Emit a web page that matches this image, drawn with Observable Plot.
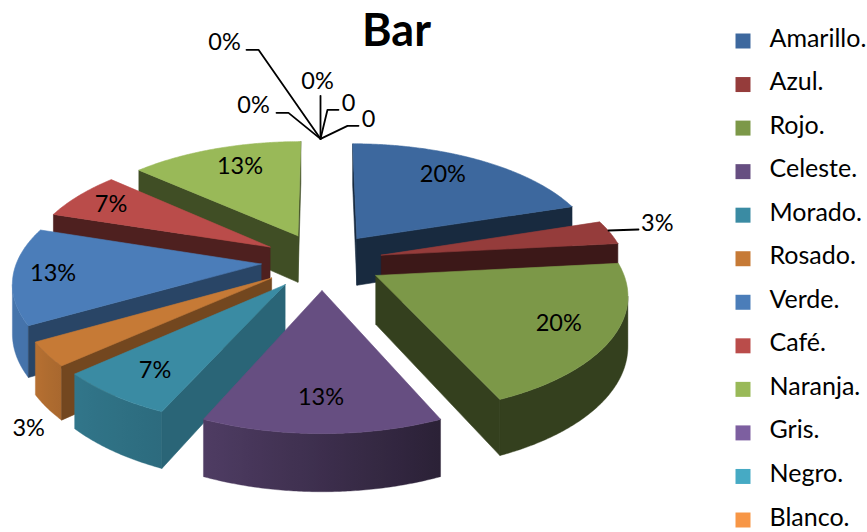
<!DOCTYPE html>
<html><head><meta charset="utf-8">
<script src="https://cdn.jsdelivr.net/npm/d3@7"></script>
<script src="https://cdn.jsdelivr.net/npm/@observablehq/plot@0.6"></script>
<style>
html,body{margin:0;padding:0;background:#fff;overflow:hidden}
#chart{position:relative;width:867px;height:532px;overflow:hidden}
#chart svg{position:absolute;top:0;background:transparent}
</style></head><body><div id="chart"></div>
<script>
// DATA
const categories = ["Amarillo.","Azul.","Rojo.","Celeste.","Morado.","Rosado.","Verde.","Café.","Naranja.","Gris.","Negro.","Blanco."];
const counts = [6,1,6,4,2,1,4,2,4,0,0,0,0,0];
const pctLabels = ["20%","3%","20%","13%","7%","3%","13%","7%","13%","0%","0%","0%","0","0"];
const colors = ["#3D689E","#953C3B","#7C9848","#664E81","#3A8BA3","#C67A36","#4B7DB9","#BA4C4A","#99B958","#7D5FA0","#46AAC4","#F79646"];

// LAYOUT / STYLE
const cam = {cx:321.5, cy:260.5, W:244, f:113.9, p:0.14, H:48, e:0.25};
const radialShade = [.40,.40,.42,.6,.73,.58,.55,.42,.42];
const outerShade = d3.scaleLinear([156,204,228,240,300],[.42,.77,.85,.92,.95]).clamp(true);
const labelOffset = [[86,-64],[276,-32],[183,48],[-1,107],[-130,86],[-243,150],[-208,9],[-159,-43],[-58,-69]];
const zeroLeaders = [
  {label:[-96,-96], pts:[[-74,-89],[-62,-89]]},
  {label:[-67,-33], pts:[[-44,-26],[-32,-26]]},
  {label:[-3,-57],  pts:[[0,-43]]},
  {label:[28,-35],  pts:[[18,-29],[7,-29]]},
  {label:[48,-19],  pts:[[38,-13],[27,-13]]}
];
const originShift = [-1.5,-1];
const azulLeader = [[608,230],[638,229]];

const rad = d => d*Math.PI/180;
const total = d3.sum(counts);
let acc = 0;
const slices = counts.map((v,i)=>{const a0=acc/total*360; acc+=v; const a1=acc/total*360; return {i,v,a0,a1,m:(a0+a1)/2};});

function project(s,a,r,z){
  const X = cam.e*Math.sin(rad(s.m)) + r*Math.sin(rad(a));
  const Y = cam.e*Math.cos(rad(s.m)) + r*Math.cos(rad(a));
  const k = 1/(1+cam.p*Y);
  return {x:cam.cx+cam.W*X*k, y:cam.cy-cam.f*Y*k+cam.H*z*k};
}
function shade(c,f){const q=d3.rgb(c);return d3.rgb(q.r*f,q.g*f,q.b*f).formatHex();}
function facing(q){const u={x:q[1].x-q[0].x,y:q[1].y-q[0].y},w={x:q[3].x-q[0].x,y:q[3].y-q[0].y};return u.x*w.y-u.y*w.x<0;}
function quad(s,a,b,ra,rb){return [project(s,a,ra,0),project(s,b,rb,0),project(s,b,rb,1),project(s,a,ra,1)];}
const poly = (pts,c,w=.6)=>Plot.line([...pts,pts[0]],{x:"x",y:"y",fill:c,stroke:c,strokeWidth:w,curve:"linear"});

const marks = [];
const gradients = [];
const drawn = slices.filter(s=>s.v>0).sort((p,q)=>Math.cos(rad(q.m))-Math.cos(rad(p.m)));
for(const s of drawn){
  const col = colors[s.i];
  const n=Math.max(8,Math.round((s.a1-s.a0)*2));
  const ang=d3.range(n+1).map(k=>s.a0+(s.a1-s.a0)*k/n);
  const top=[project(s,s.a0,0,0),...ang.map(a=>project(s,a,1,0))];
  const vis=[];
  for(let k=0;k<n;k++){ if(facing(quad(s,ang[k],ang[k+1],1,1))) {if(!vis.length)vis.push(ang[k]);vis.push(ang[k+1]);} }
  const q0=quad(s,s.a0,s.a0,0,1), q1=quad(s,s.a1,s.a1,1,0);
  if(vis.length){
    const id="wall"+s.i;
    const tp=vis.map(a=>project(s,a,1,0)), bt=vis.map(a=>project(s,a,1,1)).reverse();
    const xa=tp[0].x, xb=tp[tp.length-1].x;
    gradients.push({id,xa,xb,stops:vis.filter((a,i)=>i%4==0||i==vis.length-1).map(a=>({o:(project(s,a,1,0).x-xa)/(xb-xa),c:shade(col,outerShade(a))}))});
    marks.push(poly([...tp,...bt],`url(#${id})`,.4));
  }
  if(facing(q0)) marks.push(poly(q0,shade(col,radialShade[s.i])));
  if(facing(q1)) marks.push(poly(q1,shade(col,radialShade[s.i])));
  marks.push(poly(top,col));
}
const defsMark = () => {
  const d=d3.create("svg:defs");
  for(const g of gradients){
    const l=d.append("linearGradient").attr("id",g.id).attr("gradientUnits","userSpaceOnUse")
      .attr("x1",g.xa).attr("x2",g.xb).attr("y1",0).attr("y2",0);
    for(const t of g.stops) l.append("stop").attr("offset",t.o).attr("stop-color",t.c);
  }
  return d.node();
};
marks.unshift(defsMark);

const font="Lato, Carlito, 'Open Sans', sans-serif";
const labelData = slices.slice(0,9).map((s,i)=>{const p=project(s,0,0,0);return {x:p.x+labelOffset[i][0],y:p.y+labelOffset[i][1],t:pctLabels[i]};});
const base = project(slices[13],360,1,0);
const origin = {x:base.x+originShift[0],y:base.y+originShift[1]};
zeroLeaders.forEach((z,i)=>{
  labelData.push({x:origin.x+z.label[0],y:origin.y+z.label[1],t:pctLabels[9+i]});
  const pts=[origin,...z.pts.slice().reverse().map(o=>({x:origin.x+o[0],y:origin.y+o[1]}))];
  marks.push(Plot.line(pts,{x:"x",y:"y",stroke:"#000",strokeWidth:1.8,curve:"linear"}));
});
marks.push(Plot.line(azulLeader.map(([x,y])=>({x,y})),{x:"x",y:"y",stroke:"#000",strokeWidth:1.8}));
marks.push(Plot.text(labelData,{x:"x",y:"y",text:"t",fontSize:23.5,fontFamily:font,fill:"#000",textAnchor:"middle",lineAnchor:"middle"}));
marks.push(Plot.text(["Bar"],{x:()=>396,y:()=>31,text:d=>d,fontSize:45,fontWeight:700,fontFamily:font,fill:"#000",lineAnchor:"middle"}));

const main = Plot.plot({width:867,height:532,margin:0,
  x:{domain:[0,867],range:[0,867],axis:null},
  y:{domain:[0,532],range:[0,532],axis:null},
  marks});
const legend = Plot.plot({width:137,height:532,margin:0,
  x:{axis:null,domain:[0,137],range:[0,137]},
  y:{type:"point",domain:categories,range:[40.5,519.5],padding:0,round:false,axis:null},
  marks:[
    Plot.dot(categories,{x:()=>12.5,y:d=>d,symbol:"square",r:8.46,fill:(d,i)=>colors[i],stroke:"none"}),
    Plot.text(categories,{x:()=>39,y:d=>d,dy:-2.5,text:d=>d,textAnchor:"start",lineAnchor:"middle",fontSize:25,fontFamily:font,fill:"#000"})
  ]});
legend.style.left="730px";
main.style.left="0";
const host=document.getElementById("chart");
host.append(main,legend);
</script></body></html>
